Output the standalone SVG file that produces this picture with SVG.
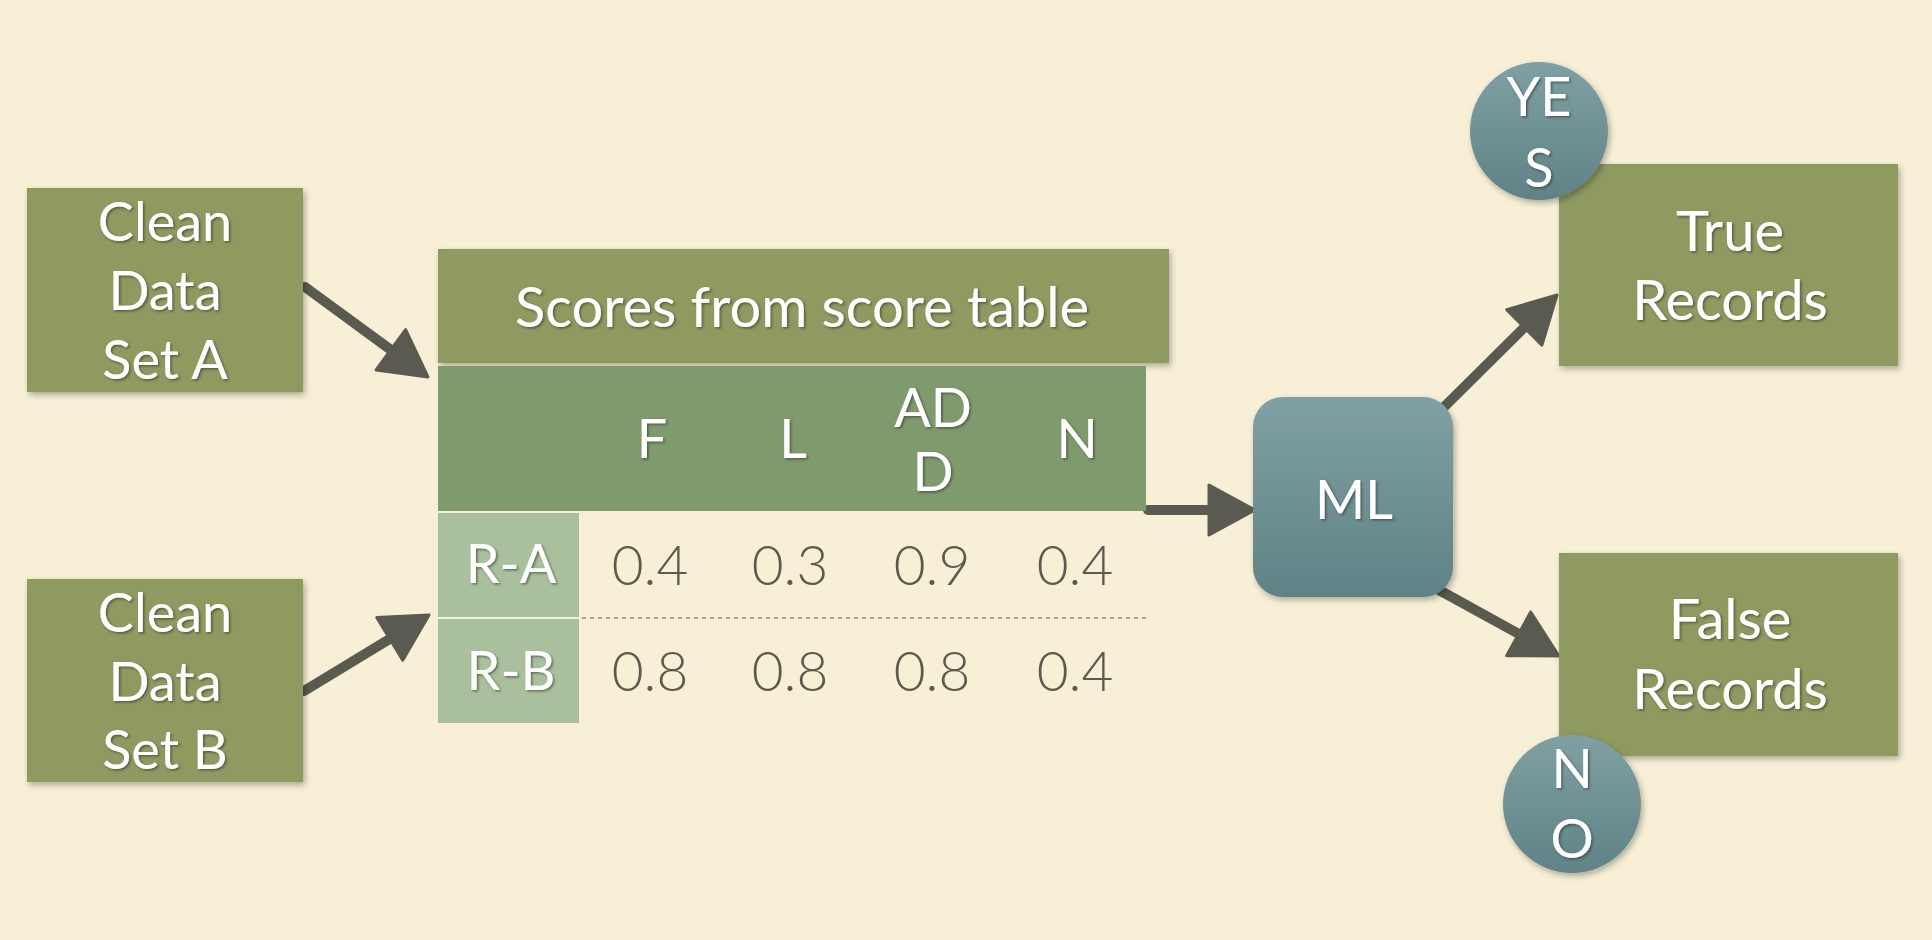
<svg xmlns="http://www.w3.org/2000/svg" width="1932" height="940" viewBox="0 0 1932 940">
<defs>
<style>
.bg{fill:#f8f0d6}
.olive{fill:#8e9a60;filter:url(#shadow)}
.hdr{fill:#7f9a6d}
.rowc{fill:#aabf9c}
.teal{fill:url(#tealg);filter:url(#shadow)}
.t{font-family:Lato,"Noto Sans","Liberation Sans",sans-serif;fill:#ffffff;text-anchor:middle;filter:url(#tshadow)}
.big{font-size:54px}
.big2{font-size:56px}
.val{font-family:Lato,"Noto Sans","Liberation Sans",sans-serif;font-weight:300;fill:#5a5a4e;text-anchor:middle;font-size:55px}
.conn{stroke:#5a5a50;stroke-width:10;stroke-linecap:round;fill:none;marker-end:url(#ah)}
</style>
<linearGradient id="tealg" x1="0" y1="0" x2="0" y2="1">
<stop offset="0" stop-color="#80a1a3"/>
<stop offset="1" stop-color="#5f8286"/>
</linearGradient>
<filter id="shadow" x="-10%" y="-10%" width="125%" height="125%">
<feDropShadow dx="2" dy="3" stdDeviation="3" flood-color="#000" flood-opacity="0.3"/>
</filter>
<filter id="tshadow" x="-10%" y="-10%" width="125%" height="130%">
<feDropShadow dx="1.5" dy="1.5" stdDeviation="1" flood-color="#2a2a20" flood-opacity="0.55"/>
</filter>
<marker id="ah" markerUnits="userSpaceOnUse" markerWidth="48" markerHeight="52" refX="36" refY="26" orient="auto" overflow="visible">
<path d="M0,1 L46,26 L0,51 z" fill="#5a5a50" stroke="#5a5a50" stroke-width="3" stroke-linejoin="round"/>
</marker>
</defs>
<rect class="bg" x="0" y="0" width="1932" height="940"/>

<g id="connectors">
<line class="conn" x1="305" y1="287" x2="419.9" y2="371.1"/>
<line class="conn" x1="304" y1="691" x2="420.5" y2="620.2"/>
<line class="conn" x1="1148" y1="510" x2="1245" y2="510"/>
<line class="conn" x1="1443" y1="408" x2="1549.9" y2="302"/>
<line class="conn" x1="1439" y1="590" x2="1550.2" y2="651.2"/>
</g>

<g id="clean-a">
<rect class="olive" x="27" y="188" width="276" height="204"/>
<text class="t big" x="165" y="241">Clean</text>
<text class="t big" x="165" y="310">Data</text>
<text class="t big" x="165" y="379">Set A</text>
</g>

<g id="clean-b">
<rect class="olive" x="27" y="579" width="276" height="203"/>
<text class="t big" x="165" y="632">Clean</text>
<text class="t big" x="165" y="701">Data</text>
<text class="t big" x="165" y="769">Set B</text>
</g>

<g id="score-header">
<rect class="olive" x="438" y="249" width="731" height="114"/>
<text class="t big2" x="802" y="327">Scores from score table</text>
</g>

<g id="score-table">
<rect class="hdr" x="438" y="366" width="708" height="145"/>
<text class="t big" x="652" y="458">F</text>
<text class="t big" x="793" y="458">L</text>
<text class="t big" x="933" y="427">AD</text>
<text class="t big" x="933" y="491">D</text>
<text class="t big" x="1077" y="458">N</text>
<rect class="rowc" x="438" y="513" width="141" height="104"/>
<rect class="rowc" x="438" y="619" width="141" height="104"/>
<text class="t big" x="511" y="583">R-A</text>
<text class="t big" x="511" y="690">R-B</text>
<line x1="582" y1="618" x2="1146" y2="618" stroke="#8a8a7a" stroke-width="1.5" stroke-dasharray="4 4"/>
<text class="val" x="650" y="585">0.4</text>
<text class="val" x="790" y="585">0.3</text>
<text class="val" x="932" y="585">0.9</text>
<text class="val" x="1075" y="585">0.4</text>
<text class="val" x="650" y="691">0.8</text>
<text class="val" x="790" y="691">0.8</text>
<text class="val" x="932" y="691">0.8</text>
<text class="val" x="1075" y="691">0.4</text>
</g>

<g id="ml">
<rect class="teal" x="1253" y="397" width="200" height="200" rx="30" ry="30"/>
<text class="t big" x="1354" y="519">ML</text>
</g>

<g id="true-records">
<rect class="olive" x="1559" y="164" width="339" height="202"/>
<text class="t big2" x="1730" y="251">True</text>
<text class="t big2" x="1730" y="320">Records</text>
</g>

<g id="false-records">
<rect class="olive" x="1559" y="553" width="339" height="203"/>
<text class="t big2" x="1730" y="639">False</text>
<text class="t big2" x="1730" y="709">Records</text>
</g>

<g id="yes">
<circle class="teal" cx="1539" cy="131" r="69"/>
<text class="t big" x="1539" y="116">YE</text>
<text class="t big" x="1539" y="187">S</text>
</g>

<g id="no">
<circle class="teal" cx="1572" cy="804" r="69"/>
<text class="t big" x="1572" y="788">N</text>
<text class="t big" x="1572" y="858">O</text>
</g>
</svg>
